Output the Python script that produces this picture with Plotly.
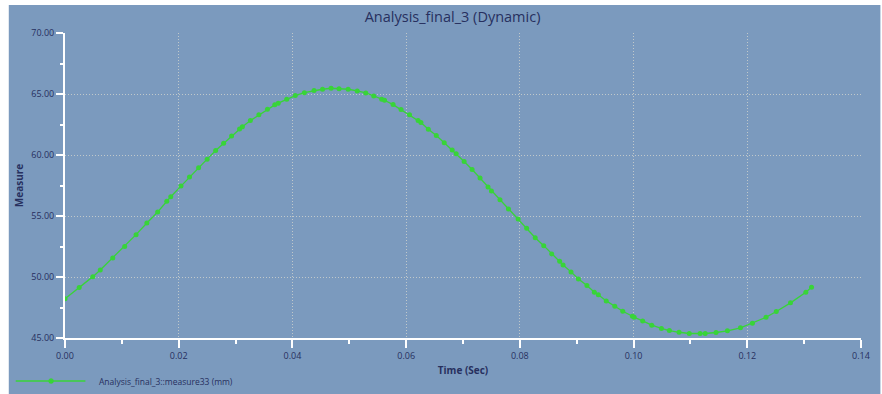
import plotly.graph_objects as go

time_s = [0.0000, 0.0025, 0.0049, 0.0062, 0.0084, 0.0105, 0.0125, 0.0144, 0.0163, 0.0179,
          0.0186, 0.0204, 0.0219, 0.0235, 0.0250, 0.0265, 0.0279, 0.0293, 0.0307, 0.0312,
          0.0326, 0.0341, 0.0356, 0.0369, 0.0375, 0.0390, 0.0405, 0.0421, 0.0438, 0.0453,
          0.0468, 0.0482, 0.0498, 0.0514, 0.0529, 0.0543, 0.0557, 0.0562, 0.0577, 0.0591,
          0.0606, 0.0621, 0.0626, 0.0639, 0.0653, 0.0667, 0.0681, 0.0688, 0.0702, 0.0716,
          0.0730, 0.0744, 0.0750, 0.0765, 0.0780, 0.0797, 0.0812, 0.0827, 0.0842, 0.0856,
          0.0870, 0.0876, 0.0890, 0.0903, 0.0918, 0.0931, 0.0938, 0.0952, 0.0967, 0.0981,
          0.0998, 0.1001, 0.1016, 0.1032, 0.1049, 0.1063, 0.1080, 0.1098, 0.1117, 0.1126,
          0.1145, 0.1165, 0.1188, 0.1209, 0.1233, 0.1251, 0.1276, 0.1303, 0.1313]
measure_mm = [48.21, 49.13, 50.03, 50.58, 51.56, 52.51, 53.47, 54.43, 55.33, 56.20,
              56.58, 57.45, 58.19, 58.95, 59.66, 60.37, 60.97, 61.55, 62.14, 62.31,
              62.82, 63.29, 63.76, 64.11, 64.25, 64.57, 64.87, 65.11, 65.28, 65.39,
              65.47, 65.44, 65.39, 65.25, 65.09, 64.84, 64.57, 64.49, 64.13, 63.72,
              63.29, 62.82, 62.66, 62.12, 61.60, 61.00, 60.40, 60.10, 59.47, 58.81,
              58.11, 57.37, 57.05, 56.33, 55.57, 54.75, 53.99, 53.22, 52.57, 51.89,
              51.29, 50.99, 50.42, 49.84, 49.30, 48.75, 48.54, 48.04, 47.60, 47.19,
              46.78, 46.70, 46.40, 46.05, 45.78, 45.61, 45.47, 45.37, 45.37, 45.37,
              45.45, 45.59, 45.83, 46.21, 46.70, 47.17, 47.88, 48.75, 49.16]

x_ticks = [0.00, 0.02, 0.04, 0.06, 0.08, 0.10, 0.12, 0.14]
x_tick_text = ["0.00", "0.02", "0.04", "0.06", "0.08", "0.10", "0.12", "0.14"]
y_ticks = [45, 50, 55, 60, 65, 70]
y_tick_text = ["45.00", "50.00", "55.00", "60.00", "65.00", "70.00"]

series_name = "Analysis_final_3::measure33 (mm)"
title_text = "Analysis_final_3 (Dynamic)"

BG = "#7b9abe"
TXT = "#27305e"
GREEN = "#38d438"
GRID = "rgba(215,215,205,0.75)"

W, H = 882, 394
L, R, T, B = 64.5, 17.5, 33, 56
pw, ph = W - L - R, H - T - B


def px_x(p):
    return (p - L) / pw


def px_y(p):
    return (H - B - p) / ph


fig = go.Figure()
fig.add_trace(go.Scatter(
    x=time_s, y=measure_mm, mode="lines+markers", name=series_name,
    line=dict(color=GREEN, width=1.3),
    marker=dict(color=GREEN, size=5, symbol="circle", line=dict(width=0)),
    showlegend=False,
))

axis_common = dict(
    showline=True, linecolor="white", linewidth=2,
    ticks="outside", tickcolor="white", tickwidth=2,
    showgrid=True, gridcolor=GRID, griddash="1px,2px", gridwidth=1,
    zeroline=False,
    tickfont=dict(family="Open Sans", size=9, color=TXT),
    title_font=dict(family="Open Sans", size=10, color=TXT),
)

fig.update_xaxes(
    range=[0, 0.14], tickvals=x_ticks, ticktext=x_tick_text, ticklen=8,
    minor=dict(dtick=0.01, ticklen=4, tickcolor="white", tickwidth=1.5, showgrid=False, ticks="outside"),
    title_text="<b>Time (Sec)</b>", title_standoff=6,
    **axis_common,
)
fig.update_yaxes(
    range=[45, 70], tickvals=y_ticks, ticktext=y_tick_text, ticklen=7,
    minor=dict(dtick=2.5, ticklen=3, tickcolor="white", tickwidth=1.5, showgrid=False, ticks="outside"),
    title_text="<b>Measure</b>", title_standoff=6,
    **axis_common,
)

shapes = [
    dict(type="rect", xref="paper", yref="paper", layer="below",
         x0=px_x(8), x1=px_x(W + 2), y0=px_y(H + 2), y1=px_y(5),
         fillcolor=BG, line=dict(width=0)),
    dict(type="line", xref="paper", yref="paper",
         x0=px_x(15), x1=px_x(85), y0=px_y(381), y1=px_y(381),
         line=dict(color=GREEN, width=1.3)),
    dict(type="circle", xref="paper", yref="paper",
         x0=px_x(48), x1=px_x(53), y0=px_y(383.5), y1=px_y(378.5),
         fillcolor=GREEN, line=dict(color=GREEN, width=0.5)),
]

annotations = [
    dict(text=series_name, xref="paper", yref="paper", x=px_x(97), y=px_y(381),
         xanchor="left", yanchor="middle", showarrow=False,
         font=dict(family="Open Sans", size=8.5, color=TXT)),
]

fig.update_layout(
    width=W, height=H,
    margin=dict(l=L, r=R, t=T, b=B, pad=0),
    paper_bgcolor="white", plot_bgcolor="rgba(0,0,0,0)",
    title=dict(text=title_text, x=px_x(454), xanchor="center", xref="paper",
               y=1 - 17 / H, yanchor="middle",
               font=dict(family="Open Sans", size=14.5, color=TXT)),
    shapes=shapes, annotations=annotations,
    showlegend=False,
)

fig.write_html("out.html", config={"displayModeBar": False},
               post_script="document.body.style.margin='0';document.body.style.padding='0';")
